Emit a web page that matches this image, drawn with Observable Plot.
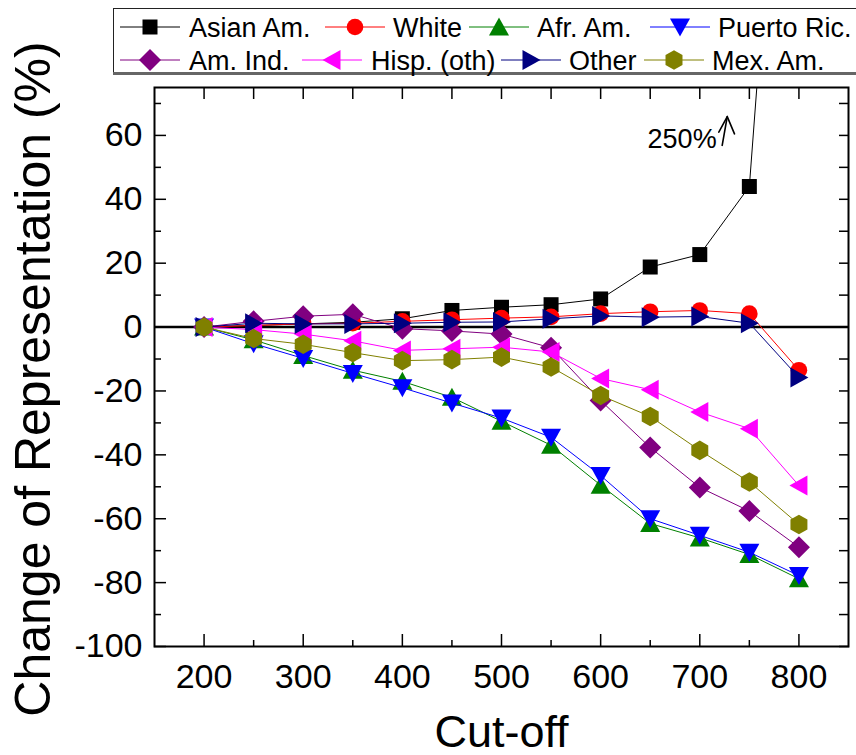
<!DOCTYPE html>
<html><head><meta charset="utf-8">
<script src="https://cdn.jsdelivr.net/npm/d3@7"></script>
<script src="https://cdn.jsdelivr.net/npm/@observablehq/plot@0.6"></script>
<style>
html,body{margin:0;padding:0;background:#fff;}
#wrap{position:relative;width:856px;height:755px;overflow:hidden;font-family:"Liberation Sans",Arial,sans-serif;}
#chart svg{display:block;}
#legend{position:absolute;left:0;top:0;}
</style></head><body>
<div id="wrap"><div id="chart"></div><svg id="legend" width="856" height="80"></svg></div>
<script>
// ---- data ----
const cutoff = [200, 250, 300, 350, 400, 450, 500, 550, 600, 650, 700, 750, 800];
const asian  = [0, 0.5, 1.0, 1.5, 2.6, 5.2, 6.2, 7.0, 8.8, 18.8, 22.7, 44.0, 250];
const white  = [0, 0.5, 1.0, 1.2, 1.8, 2.3, 2.8, 3.2, 4.2, 4.8, 5.2, 4.2, -13.5];
const afr    = [0, -4.0, -8.9, -13.5, -17.0, -22.0, -29.5, -37.0, -49.5, -61.5, -66.0, -71.2, -78.8];
const puerto = [0, -5.2, -9.8, -14.5, -19.0, -23.8, -28.5, -34.5, -46.5, -60.0, -65.2, -70.5, -77.8];
const amInd  = [0, 1.8, 3.4, 4.0, -0.5, -1.2, -2.2, -6.5, -23.0, -37.7, -50.2, -57.6, -68.9];
const hisp   = [0, -0.8, -2.2, -4.3, -7.3, -6.8, -6.3, -7.8, -16.1, -19.6, -26.6, -31.8, -49.6];
const other  = [0, 1.2, 1.0, 1.0, 1.2, 1.5, 1.6, 2.6, 3.5, 3.1, 3.3, 1.2, -15.8];
const mex    = [0, -3.6, -5.4, -8.0, -10.5, -10.2, -9.4, -12.5, -21.4, -28.0, -38.6, -48.5, -61.8];

const seriesNames   = ["Asian Am.", "White", "Afr. Am.", "Puerto Ric.", "Am. Ind.", "Hisp. (oth)", "Other", "Mex. Am."];
const seriesValues  = [asian, white, afr, puerto, amInd, hisp, other, mex];
const seriesColors  = ["#000000", "#ff0000", "#008000", "#0000ff", "#800080", "#ff00ff", "#000080", "#808000"];
const seriesSymbols = ["square", "circle", "triUp", "triDown", "diamond", "triLeft", "triRight", "hexagon"];

const yTickLabels = [-100, -80, -60, -40, -20, 0, 20, 40, 60];
const yMinorTicks = [-90, -70, -50, -30, -10, 10, 30, 50, 70];
const yAllTicks   = [-100, -90, -80, -70, -60, -50, -40, -30, -20, -10, 0, 10, 20, 30, 40, 50, 60, 70];
const xTickLabels = [200, 300, 400, 500, 600, 700, 800];
const xMinorTicks = [250, 350, 450, 550, 650, 750];
const xTopTicks   = [200, 250, 300, 350, 400, 450, 500, 550, 600, 650, 700, 750, 800];

const xLabel = "Cut-off";
const yLabel = "Change of Representation (%)";

// annotation "250%" with arrow (data coordinates)
const annoText = ["250%"];
const annoX = [717];
const annoY = [56];
const arrowPts = [
  {x: 722.6, y: 56.9, part: "shaft"}, {x: 727.7, y: 65.9, part: "shaft"},
  {x: 719.2, y: 61.0, part: "head"}, {x: 727.7, y: 65.9, part: "head"}, {x: 735.0, y: 60.5, part: "head"}
];

// legend layout (pixels): marker centre x, text start x, row
const legendLayout = [
  {mx: 150, tx: 189, row: 0}, {mx: 355, tx: 393, row: 0}, {mx: 499, tx: 537, row: 0}, {mx: 680, tx: 718, row: 0},
  {mx: 150, tx: 189, row: 1}, {mx: 332, tx: 371, row: 1}, {mx: 531, tx: 569, row: 1}, {mx: 674, tx: 712, row: 1}
];
const legendRowY = [27, 60];

// ---- symbol shapes ----
function shapePath(name, c) {
  switch (name) {
    case "square": c.moveTo(-7.5, -7.5); c.lineTo(7.5, -7.5); c.lineTo(7.5, 7.5); c.lineTo(-7.5, 7.5); c.closePath(); break;
    case "circle": c.moveTo(8.3, 0); c.arc(0, 0, 8.3, 0, 2 * Math.PI); break;
    case "triUp": c.moveTo(0, -9.5); c.lineTo(10, 8.5); c.lineTo(-10, 8.5); c.closePath(); break;
    case "triDown": c.moveTo(0, 9.5); c.lineTo(10, -8.5); c.lineTo(-10, -8.5); c.closePath(); break;
    case "triLeft": c.moveTo(-9.5, 0); c.lineTo(8.5, -10); c.lineTo(8.5, 10); c.closePath(); break;
    case "triRight": c.moveTo(9.5, 0); c.lineTo(-8.5, -10); c.lineTo(-8.5, 10); c.closePath(); break;
    case "diamond": c.moveTo(0, -11); c.lineTo(11, 0); c.lineTo(0, 11); c.lineTo(-11, 0); c.closePath(); break;
    case "hexagon":
      for (let k = 0; k < 6; k++) {
        const a = Math.PI / 3 * k - Math.PI / 2;
        const px = 9.8 * Math.cos(a), py = 9.8 * Math.sin(a);
        if (k === 0) c.moveTo(px, py); else c.lineTo(px, py);
      }
      c.closePath(); break;
  }
}
const symbolOf = (name) => ({draw(context) { shapePath(name, context); }});
const hyphenFormat = (d) => String(d);

// ---- marks ----
const marks = [];
marks.push(Plot.ruleY([0], {stroke: "#000", strokeWidth: 2.5}));
seriesNames.forEach((name, i) => {
  const rows = cutoff.map((c, j) => ({cutoff: c, value: seriesValues[i][j], series: name}));
  marks.push(Plot.line(rows, {x: "cutoff", y: "value", stroke: seriesColors[i], strokeWidth: 1, clip: true}));
  marks.push(Plot.dot(rows, {x: "cutoff", y: "value", fill: seriesColors[i], stroke: "none", r: 8, symbol: symbolOf(seriesSymbols[i]), clip: true}));
});

marks.push(
  Plot.text(annoText, {x: annoX, y: annoY, text: (d) => d, textAnchor: "end", lineAnchor: "bottom", fontSize: 27, fill: "#000"}),
  Plot.line(arrowPts, {x: "x", y: "y", z: "part", stroke: "#000", strokeWidth: 1.6}),
  // axes: labels
  Plot.axisY(yTickLabels, {anchor: "left", tickSize: 0, tickPadding: 12, fontSize: 34, label: null, fill: "#000", tickFormat: hyphenFormat}),
  Plot.axisX(xTickLabels, {anchor: "bottom", tickSize: 0, tickPadding: 17, fontSize: 34, label: null, fill: "#000", tickFormat: hyphenFormat}),
  // inward ticks
  Plot.axisY(yTickLabels, {anchor: "left", tickSize: 12, dx: 12, fill: "none", label: null, stroke: "#000", strokeWidth: 1.5}),
  Plot.axisY(yMinorTicks, {anchor: "left", tickSize: 7, dx: 7, fill: "none", label: null, stroke: "#000", strokeWidth: 1.5}),
  Plot.axisY(yAllTicks, {anchor: "right", tickSize: 10, dx: -10, fill: "none", label: null, stroke: "#000", strokeWidth: 1.5}),
  Plot.axisX(xTickLabels, {anchor: "bottom", tickSize: 12, dy: -12, fill: "none", label: null, stroke: "#000", strokeWidth: 1.5}),
  Plot.axisX(xMinorTicks, {anchor: "bottom", tickSize: 6, dy: -6, fill: "none", label: null, stroke: "#000", strokeWidth: 1.5}),
  Plot.axisX(xTopTicks, {anchor: "top", tickSize: 11, dy: 11, fill: "none", label: null, stroke: "#000", strokeWidth: 1.5}),
  Plot.frame({stroke: "#000", strokeWidth: 2}),
  // axis titles
  Plot.text([yLabel], {frameAnchor: "left", rotate: -90, dx: -105, dy: 12, text: (d) => d, fontSize: 50, textAnchor: "middle", lineAnchor: "bottom", fill: "#000"}),
  Plot.text([xLabel], {frameAnchor: "bottom", dy: 100, text: (d) => d, fontSize: 45, textAnchor: "middle", lineAnchor: "bottom", fill: "#000"})
);

const chart = Plot.plot({
  width: 856,
  height: 755,
  marginLeft: 154,
  marginRight: 8,
  marginTop: 87,
  marginBottom: 109,
  x: {domain: [150, 850]},
  y: {domain: [-100, 75]},
  style: {fontFamily: "'Liberation Sans', Arial, sans-serif", background: "#fff", color: "#000", overflow: "visible"},
  marks
});
document.getElementById("chart").appendChild(chart);

// ---- legend ----
const lg = d3.select("#legend");
lg.append("rect").attr("x", 113.5).attr("y", 8.5).attr("width", 800).attr("height", 64.5)
  .attr("fill", "#fff").attr("stroke", "#222").attr("stroke-width", 1);
lg.append("line").attr("x1", 113).attr("x2", 856).attr("y1", 73.5).attr("y2", 73.5)
  .attr("stroke", "#666").attr("stroke-width", 3);
seriesNames.forEach((name, i) => {
  const L = legendLayout[i];
  const y = legendRowY[L.row];
  lg.append("line").attr("x1", L.mx - 30).attr("x2", L.mx + 30).attr("y1", y).attr("y2", y)
    .attr("stroke", seriesColors[i]).attr("stroke-width", 1);
  const p = d3.path();
  shapePath(seriesSymbols[i], p);
  lg.append("path").attr("d", p.toString()).attr("transform", `translate(${L.mx},${y})`).attr("fill", seriesColors[i]);
  lg.append("text").attr("x", L.tx).attr("y", y + 9.7).attr("font-size", 27)
    .attr("font-family", "'Liberation Sans', Arial, sans-serif").attr("fill", "#000").text(name);
});
</script>
</body></html>
